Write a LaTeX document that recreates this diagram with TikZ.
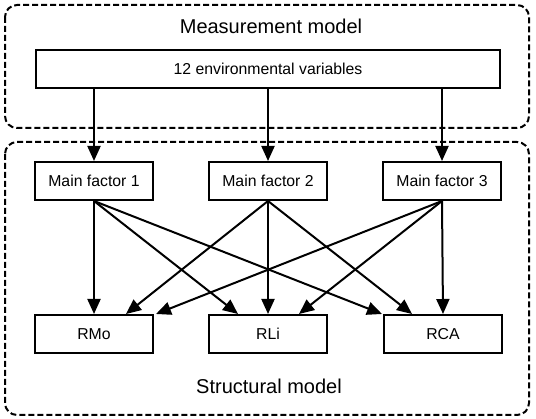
\documentclass[tikz,border=0pt]{standalone}
\usepackage{fontspec}
\setmainfont{Liberation Sans}
\usetikzlibrary{arrows.meta}
\begin{document}
\begin{tikzpicture}[x=1pt,y=-1pt,
  region/.style={draw, line width=2pt, dash pattern=on 6pt off 3pt, rounded corners=12pt},
  varbox/.style={draw, line width=2pt, minimum width=118pt, minimum height=38pt, inner sep=0pt, font=\fontsize{15.8}{18}\selectfont},
  title/.style={font=\fontsize{20}{24}\selectfont, inner sep=0pt},
  link/.style={line width=2pt, -{Triangle[length=15pt,width=13pt]}}
]
\useasboundingbox (0,0) rectangle (536,419);
\draw[region] (5,5) rectangle (529,128);
\draw[region] (5,142) rectangle (529,415);
\node[title] (mtitle) at (271,26) {Measurement model};
\node[title] (stitle) at (269,386) {Structural model};
\node[varbox, minimum width=464pt] (env) at (268,69) {12 environmental variables};
\node[varbox] (f1) at (94,181) {Main factor 1};
\node[varbox] (f2) at (268,181) {Main factor 2};
\node[varbox] (f3) at (442,181) {Main factor 3};
\node[varbox] (rmo) at (94,334) {RMo};
\node[varbox] (rli) at (268,334) {RLi};
\node[varbox] (rca) at (443,334) {RCA};
\draw[link] (env.south -| f1) -- (f1.north);
\draw[link] (env.south -| f2) -- (f2.north);
\draw[link] (env.south -| f3) -- (f3.north);
% from factor 1
\draw[link] (f1.south) -- (rmo.north);
\draw[link] (f1.south) -- ([xshift=-30pt]rli.north);
\draw[link] (f1.south) -- ([xshift=-1pt]rca.north west);
% from factor 2
\draw[link] (f2.south) -- ([xshift=32pt]rmo.north);
\draw[link] (f2.south) -- (rli.north);
\draw[link] (f2.south) -- ([xshift=-31pt]rca.north);
% from factor 3
\draw[link] (f3.south) -- ([xshift=2pt]rmo.north east);
\draw[link] (f3.south) -- ([xshift=31pt]rli.north);
\draw[link] (f3.south) -- (rca.north);
\end{tikzpicture}
\end{document}
